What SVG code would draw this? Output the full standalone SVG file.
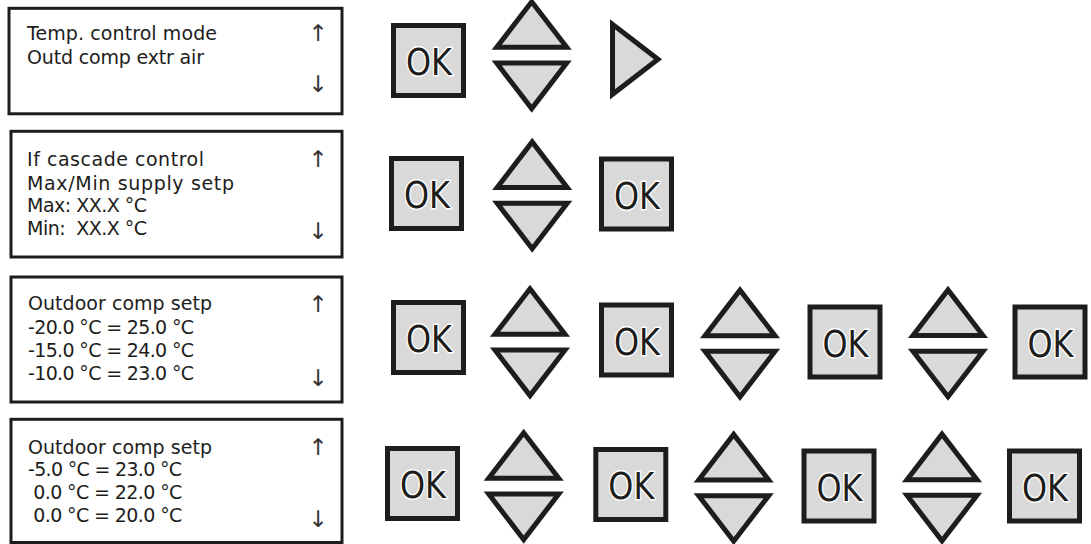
<svg xmlns="http://www.w3.org/2000/svg" xmlns:xlink="http://www.w3.org/1999/xlink" width="1091" height="544" viewBox="0 0 1091 544">
<style>
.scr{fill:#fff;stroke:#1d1d1b;stroke-width:3}
.t{font-family:"DejaVu Sans",sans-serif;font-size:19px;fill:#1d1d1b;white-space:pre}
.ar{font-family:"DejaVu Sans",sans-serif;font-size:23px;fill:#333333;text-anchor:middle}
.btn{fill:#d9d9d9;stroke:#1d1d1b;stroke-width:5;stroke-linejoin:miter;stroke-miterlimit:10}
.okt{font-family:"DejaVu Sans",sans-serif;font-size:38px;fill:#1d1d1b;stroke:#fff;stroke-width:3;paint-order:stroke;stroke-linejoin:round}
</style>
<defs>
<g id="ok"><rect class="btn" x="2.5" y="2.5" width="70" height="70"/><text class="okt" x="15" y="52" textLength="46" lengthAdjust="spacingAndGlyphs">OK</text></g>
<g id="ud"><polygon class="btn" points="-35,-7.85 35,-7.85 0,-53.35"/><polygon class="btn" points="-35,7.85 35,7.85 0,53.35"/></g>
</defs>
<rect width="1091" height="544" fill="#fff"/>

<g id="screen1">
<rect class="scr" x="9" y="8.3" width="333" height="105.5"/>
<text class="t" x="27" y="39.5" textLength="190" lengthAdjust="spacing">Temp. control mode</text>
<text class="t" x="27" y="63.5" textLength="177" lengthAdjust="spacing">Outd comp extr air</text>
<text class="ar" x="318" y="41">↑</text>
<text class="ar" x="318" y="92">↓</text>
</g>

<g id="screen2">
<rect class="scr" x="11" y="131.3" width="331" height="125.7"/>
<text class="t" x="27" y="166" textLength="177" lengthAdjust="spacing">If cascade control</text>
<text class="t" x="27" y="189.5" textLength="207" lengthAdjust="spacing">Max/Min supply setp</text>
<text class="t" x="27" y="212" textLength="120" lengthAdjust="spacing">Max: XX.X °C</text>
<text class="t" x="27" y="234.5" textLength="120" lengthAdjust="spacing">Min:  XX.X °C</text>
<text class="ar" x="318" y="167">↑</text>
<text class="ar" x="318" y="239">↓</text>
</g>

<g id="screen3">
<rect class="scr" x="11" y="277" width="331" height="125"/>
<text class="t" x="28" y="310" textLength="184" lengthAdjust="spacing">Outdoor comp setp</text>
<text class="t" x="28" y="333.5" textLength="166" lengthAdjust="spacing">-20.0 °C = 25.0 °C</text>
<text class="t" x="28" y="357" textLength="166" lengthAdjust="spacing">-15.0 °C = 24.0 °C</text>
<text class="t" x="28" y="380" textLength="166" lengthAdjust="spacing">-10.0 °C = 23.0 °C</text>
<text class="ar" x="318" y="312">↑</text>
<text class="ar" x="318" y="386">↓</text>
</g>

<g id="screen4">
<rect class="scr" x="11" y="419.3" width="331" height="123.2"/>
<text class="t" x="28" y="453.5" textLength="184" lengthAdjust="spacing">Outdoor comp setp</text>
<text class="t" x="28" y="476" textLength="154" lengthAdjust="spacing">-5.0 °C = 23.0 °C</text>
<text class="t" x="33.3" y="498.5" textLength="149" lengthAdjust="spacing">0.0 °C = 22.0 °C</text>
<text class="t" x="33.3" y="521.5" textLength="149" lengthAdjust="spacing">0.0 °C = 20.0 °C</text>
<text class="ar" x="318" y="455">↑</text>
<text class="ar" x="318" y="527">↓</text>
</g>

<g id="row1-ok1"><use xlink:href="#ok" x="391" y="23"/></g>
<g id="row1-updown"><use xlink:href="#ud" x="531.7" y="55.2"/></g>
<g id="row1-right"><polygon class="btn" points="612.5,24.3 612.5,94.3 658,59.3"/></g>

<g id="row2-ok1"><use xlink:href="#ok" x="389" y="156"/></g>
<g id="row2-updown"><use xlink:href="#ud" x="532.2" y="195.3"/></g>
<g id="row2-ok2"><use xlink:href="#ok" x="599" y="156.5"/></g>

<g id="row3-ok1"><use xlink:href="#ok" x="391" y="300"/></g>
<g id="row3-updown1"><use xlink:href="#ud" x="530" y="342.2"/></g>
<g id="row3-ok2"><use xlink:href="#ok" x="599" y="302.5"/></g>
<g id="row3-updown2"><use xlink:href="#ud" x="740" y="343.5"/></g>
<g id="row3-ok3"><use xlink:href="#ok" x="807.5" y="304.5"/></g>
<g id="row3-updown3"><use xlink:href="#ud" x="948" y="343.3"/></g>
<g id="row3-ok4"><use xlink:href="#ok" x="1012.5" y="304.5"/></g>

<g id="row4-ok1"><use xlink:href="#ok" x="385" y="446"/></g>
<g id="row4-updown1"><use xlink:href="#ud" x="523.7" y="486.2"/></g>
<g id="row4-ok2"><use xlink:href="#ok" x="593.3" y="447"/></g>
<g id="row4-updown2"><use xlink:href="#ud" x="733.7" y="487.8"/></g>
<g id="row4-ok3"><use xlink:href="#ok" x="801.5" y="448.5"/></g>
<g id="row4-updown3"><use xlink:href="#ud" x="942" y="487.5"/></g>
<g id="row4-ok4"><use xlink:href="#ok" x="1007" y="448.5"/></g>

<g id="connectors"></g>
</svg>
